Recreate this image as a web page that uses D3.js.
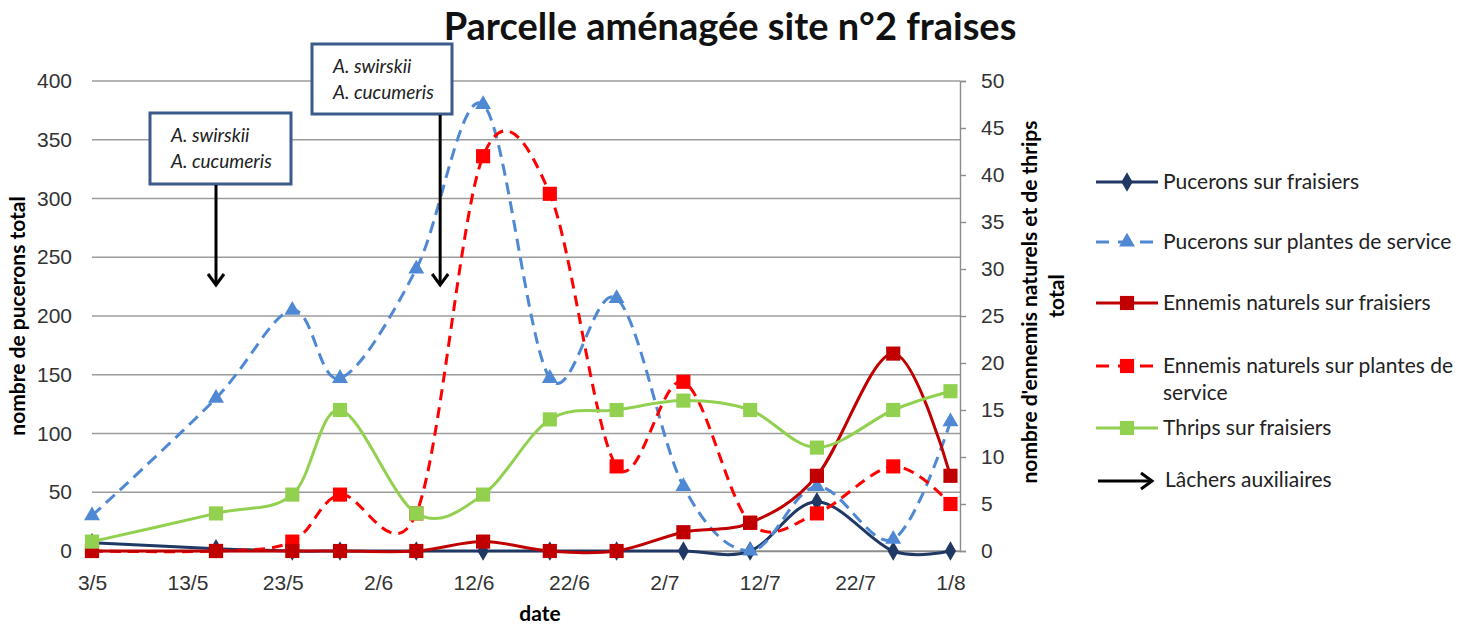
<!DOCTYPE html>
<html>
<head>
<meta charset="utf-8">
<script src="https://cdn.jsdelivr.net/npm/d3@7"></script>
<style>
  body { margin: 0; background: #fff; }
  svg { font-family: Lato, "Open Sans", sans-serif; }
  .tick text { fill: #333; }
</style>
</head>
<body>
<svg id="chart" width="1475" height="626"></svg>
<script>
// dates des relevés (jour/mois, 2013)
var dates = ["3/5", "16/5", "24/5", "29/5", "6/6", "13/6", "20/6", "27/6", "4/7", "11/7", "18/7", "26/7", "1/8"];
var xTicks = ["3/5", "13/5", "23/5", "2/6", "12/6", "22/6", "2/7", "12/7", "22/7", "1/8"];
var leftTicks = [0, 50, 100, 150, 200, 250, 300, 350, 400];
var rightTicks = [0, 5, 10, 15, 20, 25, 30, 35, 40, 45, 50];

// axe principal (pucerons)
var pucFraisiers = [7, 2, 0, 0, 0, 0, 0, 0, 0, 0, 42, 0, 0];
var pucService = [30, 130, 205, 147, 240, 380, 147, 215, 55, 0, 55, 10, 110];
// axe secondaire (ennemis naturels, thrips)
var ennFraisiers = [0, 0, 0, 0, 0, 1, 0, 0, 2, 3, 8, 21, 8];
var ennService = [0, 0, 1, 6, 4, 42, 38, 9, 18, 3, 4, 9, 5];
var thrips = [1, 4, 6, 15, 4, 6, 14, 15, 16, 15, 11, 15, 17];

// lâchers d'auxiliaires
var releases = ["16/5 00", "8/6 12"];
var releaseText = ["A. swirskii", "A. cucumeris"];

var parseDay = function(s) { return d3.timeParse("%d/%m/%Y")(s + "/2013"); };
var parseRelease = function(s) { return d3.timeParse("%d/%m %H/%Y")(s + "/2013"); };

var svg = d3.select("#chart");

let x = d3.scaleTime()
  .domain([parseDay("3/5"), parseDay("2/8")])
  .range([92, 960]);
let yL = d3.scaleLinear().domain([0, 400]).range([551, 81]);
let yR = d3.scaleLinear().domain([0, 50]).range([551, 81]);

// Grille horizontale
svg.append("g")
  .selectAll("line")
  .data(leftTicks)
  .enter().append("line")
  .attr("x1", x.range()[0]).attr("x2", x.range()[1])
  .attr("y1", d => yL(d)).attr("y2", d => yL(d))
  .style("stroke", "#9c9c9c")
  .style("stroke-width", 1.4);

// Axes
var axL = svg.append("g")
  .attr("transform", "translate(92,0)")
  .call(d3.axisLeft(yL).tickValues(leftTicks).tickSize(0).tickPadding(20));
axL.select(".domain").remove();
axL.selectAll("text").style("font-size", "21px");

var axR = svg.append("g")
  .attr("transform", "translate(960,0)")
  .call(d3.axisRight(yR).tickValues(rightTicks).tickSize(6).tickPadding(15));
axR.select(".domain").style("stroke", "#8c8c8c").style("stroke-width", 1.4);
axR.selectAll("line").style("stroke", "#8c8c8c").style("stroke-width", 1.4);
axR.selectAll("text").style("font-size", "21px");

var axB = svg.append("g")
  .attr("transform", "translate(0,551)")
  .call(d3.axisBottom(x).tickValues(xTicks.map(parseDay)).tickFormat(d3.timeFormat("%-d/%-m")).tickSize(0).tickPadding(24));
axB.select(".domain").style("stroke", "#8c8c8c").style("stroke-width", 1.4);
axB.selectAll("text").style("font-size", "21px");

// Séries
var series = [
  {name: "Pucerons sur fraisiers", values: pucFraisiers, y: yL, color: "#1f3864", dash: null, marker: "diamond"},
  {name: "Pucerons sur plantes de service", values: pucService, y: yL, color: "#4f88d3", dash: "12,7", marker: "triangle"},
  {name: "Ennemis naturels sur plantes de service", values: ennService, y: yR, color: "#ff0000", dash: "11,7", marker: "square"},
  {name: "Ennemis naturels sur fraisiers", values: ennFraisiers, y: yR, color: "#c00000", dash: null, marker: "square"},
  {name: "Thrips sur fraisiers", values: thrips, y: yR, color: "#92d050", dash: null, marker: "square"}
];
var legendOrder = [0, 1, 3, 2, 4];
var symbols = {
  diamond: d3.symbol().type(d3.symbolDiamond).size(110),
  triangle: d3.symbol().type(d3.symbolTriangle).size(110),
  square: d3.symbol().type(d3.symbolSquare).size(200)
};

var plot = svg.append("g").classed("plot", true);
series.forEach(function(s) {
  var pts = dates.map((d, i) => [parseDay(d), s.values[i]]);
  plot.append("path")
    .attr("d", d3.line()
      .curve(d3.curveCardinal.tension(0))
      .x(p => x(p[0]))
      .y(p => s.y(p[1]))(pts))
    .style("fill", "none")
    .style("stroke", s.color)
    .style("stroke-width", 3)
    .style("stroke-dasharray", s.dash);
  plot.append("g")
    .selectAll("path")
    .data(pts)
    .enter().append("path")
    .attr("transform", p => "translate(" + x(p[0]) + "," + s.y(p[1]) + ")")
    .attr("d", symbols[s.marker])
    .style("fill", s.color);
});

// Lâchers : encadrés + flèches
var boxes = [
  {x: 150, y: 113, w: 141, h: 71},
  {x: 312, y: 44, w: 140, h: 70}
];
releases.forEach(function(r, i) {
  var b = boxes[i];
  var g = svg.append("g");
  g.append("rect")
    .attr("x", b.x).attr("y", b.y).attr("width", b.w).attr("height", b.h)
    .style("fill", "#fff").style("stroke", "#3b5b8a").style("stroke-width", 3);
  releaseText.forEach(function(t, j) {
    g.append("text")
      .attr("x", b.x + 21).attr("y", b.y + 29 + j * 26)
      .style("font-style", "italic").style("font-size", "19px").style("fill", "#222")
      .text(t);
  });
  var ax = x(parseRelease(r));
  g.append("line")
    .attr("x1", ax).attr("x2", ax).attr("y1", b.y + b.h + 1).attr("y2", 285)
    .style("stroke", "#000").style("stroke-width", 3);
  g.append("path")
    .attr("d", "M" + (ax - 8) + ",274L" + ax + ",285L" + (ax + 8) + ",274")
    .style("fill", "none").style("stroke", "#000").style("stroke-width", 3);
});

// Titres
svg.append("text")
  .attr("x", 730).attr("y", 40)
  .attr("text-anchor", "middle")
  .style("font-size", "38px").style("font-weight", "bold").style("fill", "#111")
  .text("Parcelle aménagée site n°2 fraises");

svg.append("text")
  .attr("x", 540).attr("y", 621)
  .attr("text-anchor", "middle")
  .style("font-size", "21px").style("font-weight", "bold")
  .text("date");

svg.append("text")
  .attr("transform", "translate(25,316) rotate(-90)")
  .attr("text-anchor", "middle")
  .style("font-size", "21px").style("font-weight", "bold")
  .text("nombre de pucerons total");

svg.append("text")
  .attr("transform", "translate(1037,302) rotate(-90)")
  .attr("text-anchor", "middle")
  .style("font-size", "21px").style("font-weight", "bold")
  .text("nombre d'ennemis naturels et de thrips");
svg.append("text")
  .attr("transform", "translate(1064,296) rotate(-90)")
  .attr("text-anchor", "middle")
  .style("font-size", "21px").style("font-weight", "bold")
  .text("total");

// Légende
var legY = [182, 242, 303, 366, 428];
var leg = svg.append("g").attr("transform", "translate(1096,0)");
legendOrder.forEach(function(k, i) {
  var s = series[k];
  var yy = legY[i];
  leg.append("line")
    .attr("x1", 0).attr("x2", 62).attr("y1", yy).attr("y2", yy)
    .style("stroke", s.color).style("stroke-width", 3)
    .style("stroke-dasharray", s.dash ? "13,9" : null);
  leg.append("path")
    .attr("transform", "translate(31," + yy + ")")
    .attr("d", symbols[s.marker])
    .style("fill", s.color);
  var words = s.name === "Ennemis naturels sur plantes de service"
    ? ["Ennemis naturels sur plantes de", "service"] : [s.name];
  words.forEach(function(w, j) {
    leg.append("text")
      .attr("x", 67).attr("y", yy + 7 + j * 27)
      .style("font-size", "21px").style("fill", "#222")
      .text(w);
  });
});
leg.append("line")
  .attr("x1", 2).attr("x2", 55).attr("y1", 481).attr("y2", 481)
  .style("stroke", "#000").style("stroke-width", 3);
leg.append("path")
  .attr("d", "M45,473L56,481L45,489")
  .style("fill", "none").style("stroke", "#000").style("stroke-width", 3);
leg.append("text")
  .attr("x", 69).attr("y", 487)
  .style("font-size", "21px").style("fill", "#222")
  .text("Lâchers auxiliaires");
</script>
</body>
</html>
